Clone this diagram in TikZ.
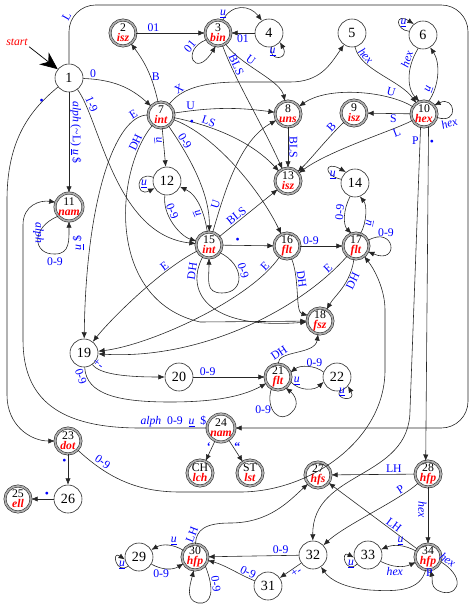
\documentclass[tikz,border=0pt]{standalone}
\usepackage{fontspec}
\setmainfont{Liberation Serif}
\usepackage{xcolor}
\usepackage{tikz}
\usetikzlibrary{
  arrows.meta,
  positioning,
  calc
}
\newcommand{\nm}[1]{\textcolor{red}{\textbf{\textit{#1}}}}
\newcommand{\uu}{\underline{\textit{u}}}

\begin{document}
\begin{tikzpicture}[x=0.03cm,y=0.03cm,
  st/.style ={circle,draw=black!85,line width=0.5pt,minimum size=0.84cm,inner sep=0pt,
              font=\fontsize{12}{12}\selectfont},
  acc/.style={circle,draw=black!85,line width=0.45pt,double=gray!65,double distance=1.5pt,
              minimum size=0.78cm,inner sep=0pt,align=center,font=\fontsize{10}{8.5}\selectfont},
  lbl/.style={text=blue,font=\fontsize{10}{10}\selectfont,inner sep=1pt},
  arr/.style={-{Latex[length=5.5pt,width=4.5pt]},draw=black!85,line width=0.5pt},
]
\useasboundingbox (0,0) rectangle (474,-613);

% states
\node[st]  (n1)  at (69,-78)   {1};
\node[acc] (n2)  at (123,-33)  {2\\\nm{isz}};
\node[acc] (n3)  at (218,-33)  {3\\\nm{bin}};
\node[st]  (n4)  at (269,-33)  {4};
\node[st]  (n5)  at (352,-33)  {5};
\node[st]  (n6)  at (423,-35)  {6};
\node[acc] (n7)  at (161,-115) {7\\\nm{int}};
\node[acc] (n8)  at (288,-114) {8\\\nm{uns}};
\node[acc] (n9)  at (354,-113) {9\\\nm{isz}};
\node[acc] (n10) at (424,-114) {10\\\nm{hex}};
\node[acc] (n11) at (69,-207)  {11\\\nm{nam}};
\node[st]  (n12) at (167,-181) {12};
\node[acc] (n13) at (288,-181) {13\\\nm{isz}};
\node[st]  (n14) at (355,-183) {14};
\node[acc] (n15) at (209,-245) {15\\\nm{int}};
\node[acc] (n16) at (287,-246) {16\\\nm{flt}};
\node[acc] (n17) at (356,-246) {17\\\nm{flt}};
\node[acc] (n18) at (320,-321) {18\\\nm{fsz}};
\node[st]  (n19) at (84,-353)  {19};
\node[st]  (n20) at (179,-377) {20};
\node[acc] (n21) at (278,-377) {21\\\nm{flt}};
\node[st]  (n22) at (337,-377) {22};
\node[acc] (n23) at (68,-441)  {23\\\nm{dot}};
\node[acc] (n24) at (221,-428) {24\\\nm{nam}};
\node[acc] (n25) at (18,-499)  {25\\\nm{ell}};
\node[st]  (n26) at (68,-499)  {26};
\node[acc] (nch) at (200,-473) {CH\\\nm{lch}};
\node[acc] (nst) at (250,-473) {ST\\\nm{lst}};
\node[acc] (n27) at (318,-475) {27\\\nm{hfs}};
\node[acc] (n28) at (428,-474) {28\\\nm{hfp}};
\node[st]  (n29) at (139,-557) {29};
\node[acc] (n30) at (195,-557) {30\\\nm{hfp}};
\node[st]  (n31) at (268,-586) {31};
\node[st]  (n32) at (313,-555) {32};
\node[st]  (n33) at (368,-555) {33};
\node[acc] (n34) at (428,-557) {34\\\nm{hfp}};

% start
\node[text=red,font=\itshape\fontsize{10}{10}\selectfont,inner sep=1pt] (start) at (17,-42) {start};
\draw[-{Stealth[length=15pt,width=13pt]},line width=0.6pt] (start.south east) -- (n1);

% from 1
\draw[arr] (n1) to[bend left=20] node[lbl,pos=0.12,above]{0} (n7);
\draw[arr] (n1) .. controls (100,-120) and (115,-235) .. node[lbl,pos=0.14,sloped,above]{1-9} (n15);
\draw[arr] (n1) -- node[lbl,pos=0.4,sloped,above]{\textit{alph} (\textasciitilde L) \uu\ \$} (n11);
\draw[arr] (n1) .. controls (30,-110) and (7,-140) .. node[lbl,pos=0.25,above right]{\textbullet} (7,-200)
  -- (7,-395) .. controls (7,-425) and (30,-441) .. (n23);
\draw[arr,rounded corners=0.8cm] (n1) -- node[lbl,pos=0.88,left,rotate=60]{L} (69,-5) -- (468,-5) -- (468,-428) -- (n24);

% from 2, 3, 4
\draw[arr] (n2) -- node[lbl,pos=0.25,above]{01} (n3);
\draw[arr] (n3.210) .. controls (180,-50) and (195,-80) .. node[lbl,pos=0.12,above left,rotate=50]{01} (n3.260);
\draw[arr] (n3.70) .. controls (232,-3) and (250,-5) .. node[lbl,pos=0.15,left]{\uu} (n4.120);
\draw[arr] (n4) -- node[lbl,below]{01} (n3);
\draw[arr] (n4.-80) .. controls (268,-62) and (290,-60) .. node[lbl,pos=0.45,above left]{\uu} (n4.-40);
\draw[arr] (n3) .. controls (240,-65) and (280,-80) .. node[lbl,pos=0.35,sloped,above]{U} (n8);
\draw[arr] (n3) .. controls (235,-80) and (260,-120) .. node[lbl,pos=0.2,sloped,above]{BLS} (n13);

% from 5, 6, 10
\draw[arr] (n5) .. controls (360,-70) and (400,-80) .. node[lbl,pos=0.2,sloped,above]{\textit{hex}} (n10);
\draw[arr] (n6.-110) .. controls (405,-70) and (408,-90) .. node[lbl,pos=0.2,sloped,above]{\textit{hex}} (n10.110);
\draw[arr] (n10.70) .. controls (440,-85) and (440,-62) .. node[lbl,pos=0.2,sloped,above]{\uu} (n6.-60);
\draw[arr] (n6.165) .. controls (395,-30) and (395,-12) .. node[lbl,pos=0.5,right]{\uu} (n6.130);
\draw[arr] (n10.-15) .. controls (460,-125) and (455,-95) .. node[lbl,pos=0.2,sloped,below]{\textit{hex}} (n10.40);
\draw[arr] (n10) .. controls (390,-92) and (330,-85) .. node[lbl,pos=0.25,sloped,above]{U} (n8);
\draw[arr] (n10) -- node[lbl,pos=0.4,below]{S} (n9);
\draw[arr] (n10) .. controls (395,-130) and (330,-150) .. node[lbl,pos=0.22,sloped,below]{L} (n13);
\draw[arr] (n9) .. controls (330,-135) and (310,-160) .. node[lbl,pos=0.2,sloped,above]{B} (n13);
\draw[arr] (n10.-105) -- node[lbl,pos=0.05,left]{P} (410,-410)
  .. controls (410,-480) and (312,-470) .. (n32);
\draw[arr] (n10.-70) -- node[lbl,pos=0.05,right]{\textbullet} (n28.100);

% from 7
\draw[arr] (n7) to[bend right=12] node[lbl,pos=0.4,right]{B} (n2);
\draw[arr] (n7) .. controls (180,-90) and (200,-82) .. node[lbl,pos=0.3,sloped,above]{X} (240,-82)
  -- (290,-82) .. controls (320,-82) and (330,-65) .. (n5);
\draw[arr] (n7) to[bend left=8] node[lbl,pos=0.15,above]{U} (n8);
\draw[arr] (n7) .. controls (210,-125) and (250,-140) .. node[lbl,pos=0.3,sloped,above]{LS} (n13);
\draw[arr] (n7) .. controls (215,-135) and (260,-190) .. node[lbl,pos=0.12,above right]{\textbullet} (n16);
\draw[arr] (n7) -- node[lbl,pos=0.3,sloped,below]{\uu} (n12);
\draw[arr] (n7) .. controls (185,-150) and (210,-190) .. node[lbl,pos=0.22,sloped,above]{0-9} (n15);
\draw[arr] (n7) .. controls (115,-115) and (86,-200) .. node[lbl,pos=0.12,sloped,above]{E} (n19);
\draw[arr] (n7) .. controls (115,-170) and (105,-300) .. node[lbl,pos=0.12,sloped,above]{DH} (200,-322) -- (n18);

% from 8, 11, 12
\draw[arr] (n8) -- node[lbl,sloped,above]{BLS} (n13);
\draw[arr] (n11.-140) .. controls (30,-228) and (33,-255) .. node[lbl,pos=0.6,left,rotate=-90]{\textit{alph}} (55,-254)
  .. controls (70,-254) and (69,-240) .. (n11.-90);
\node[lbl] (l11a) at (55,-262) {0-9};
\node[lbl,rotate=90] (l11b) at (78,-243) {\uu\ \$};
\draw[arr] (n12.165) .. controls (135,-170) and (135,-198) .. node[lbl,pos=0.5,right]{\uu} (n12.-150);
\draw[arr] (n12) .. controls (162,-215) and (180,-236) .. node[lbl,pos=0.3,sloped,above]{0-9} (n15);

% from 15
\draw[arr] (n15) .. controls (205,-215) and (198,-195) .. node[lbl,pos=0.4,sloped,below]{\uu} (n12);
\draw[arr] (n15) .. controls (225,-190) and (240,-140) .. node[lbl,pos=0.2,sloped,above]{U} (n8);
\draw[arr] (n15) -- node[lbl,pos=0.35,sloped,above]{BLS} (n13);
\draw[arr] (n15) -- node[lbl,pos=0.3,above]{\textbullet} (n16);
\draw[arr] (n15.-35) .. controls (245,-265) and (245,-293) .. node[lbl,pos=0.4,sloped,above]{0-9} (222,-293)
  .. controls (205,-293) and (209,-280) .. (n15.-90);
\draw[arr] (n15) .. controls (160,-270) and (110,-320) .. node[lbl,pos=0.25,sloped,above]{E} (n19);
\draw[arr] (n15) .. controls (185,-290) and (205,-330) .. node[lbl,pos=0.15,sloped,above]{DH} (n18);

% from 16, 17, 14
\draw[arr] (n16) -- node[lbl,pos=0.25,above]{0-9} (n17);
\draw[arr] (n16.-70) .. controls (300,-280) and (295,-312) .. node[lbl,pos=0.3,sloped,above]{DH} (n18.155);
\draw[arr] (n16) .. controls (250,-300) and (150,-345) .. node[lbl,pos=0.1,sloped,above]{E} (n19);
\draw[arr] (n17.25) .. controls (395,-225) and (400,-265) .. node[lbl,pos=0.3,above]{0-9} (n17.-25);
\draw[arr] (n17.70) .. controls (367,-222) and (367,-205) .. node[lbl,pos=0.3,sloped,below]{\uu} (n14.-70);
\draw[arr] (n14.-110) .. controls (343,-210) and (343,-225) .. node[lbl,pos=0.4,sloped,above]{0-9} (n17.110);
\draw[arr] (n14.165) .. controls (322,-175) and (325,-160) .. node[lbl,pos=0.5,below right]{\uu} (n14.130);
\draw[arr] (n17) .. controls (350,-285) and (335,-295) .. node[lbl,pos=0.3,sloped,below]{DH} (n18);
\draw[arr] (n17) .. controls (300,-310) and (200,-360) .. node[lbl,pos=0.1,sloped,above]{E} (n19);

% from 19 .. 22
\draw[arr] (n19) .. controls (100,-375) and (130,-377) .. node[lbl,pos=0.1,sloped,above]{+-} (n20);
\draw[arr] (n19) .. controls (86,-395) and (120,-402) .. node[lbl,pos=0.1,sloped,below]{0-9} (170,-402)
  .. controls (220,-402) and (245,-395) .. (n21);
\draw[arr] (n20) -- node[lbl,pos=0.2,above]{0-9} (n21);
\draw[arr] (n21) .. controls (278,-350) and (315,-355) .. node[lbl,pos=0.2,sloped,above]{DH} (n18);
\draw[arr] (n21.-20) .. controls (300,-392) and (315,-390) .. node[lbl,pos=0.2,above]{\uu} (n22.-160);
\draw[arr] (n22.160) .. controls (315,-365) and (300,-365) .. node[lbl,pos=0.3,above]{0-9} (n21.20);
\draw[arr] (n21.-120) .. controls (265,-410) and (280,-425) .. node[lbl,pos=0.4,left]{0-9} (292,-412)
  .. controls (300,-405) and (295,-395) .. (n21.-55);
\draw[arr] (n22.-80) .. controls (335,-400) and (357,-402) .. node[lbl,pos=0.55,above left]{\uu} (n22.-40);

% from 23, 24, 26
\draw[arr] (n23) -- node[lbl,pos=0.25,left]{\textbullet} (n26);
\draw[arr] (n26) -- node[lbl,pos=0.3,above]{\textbullet} (n25);
\draw[arr] (n23) .. controls (110,-480) and (140,-492) .. node[lbl,pos=0.22,sloped,above=1pt]{0-9} (180,-492)
  -- (240,-492) .. controls (310,-492) and (385,-440) .. (385,-370) -- (385,-310)
  .. controls (385,-290) and (375,-270) .. (n17);
\draw[arr] (n24) -- (140,-428) node[lbl,pos=0.5,above]{\textit{alph}\ \ 0-9\ \ \uu\ \ \$}
  .. controls (60,-428) and (23,-400) .. (23,-340) -- (23,-225) .. controls (23,-205) and (40,-200) .. (n11.160);
\draw[arr] (n24) -- node[lbl,pos=0.3,left,font=\bfseries\fontsize{10}{10}\selectfont]{‘} (nch);
\draw[arr] (n24) -- node[lbl,pos=0.3,right,font=\bfseries\fontsize{10}{10}\selectfont]{“} (nst);

% from 28, 34, 33
\draw[arr] (n28) -- node[lbl,pos=0.25,above]{LH} (n27);
\draw[arr] (n28) .. controls (400,-500) and (345,-525) .. node[lbl,pos=0.2,sloped,above]{P} (n32);
\draw[arr] (n28) -- node[lbl,pos=0.4,sloped,below]{\textit{hex}} (n34);
\draw[arr] (n34) -- node[lbl,pos=0.3,sloped,above]{LH} (n27);
\draw[arr] (n34) to[bend right=25] node[lbl,pos=0.45,above]{\uu} (n33);
\draw[arr] (n33) to[bend right=25] node[lbl,pos=0.4,below]{\textit{hex}} (n34);
\draw[arr] (n33.-140) .. controls (345,-575) and (340,-550) .. node[lbl,pos=0.4,right]{\uu} (n33.-170);
\draw[arr] (n34.-20) .. controls (470,-580) and (455,-600) .. node[lbl,pos=0.05,sloped,above]{\textit{hex}} (437,-590)
  .. controls (430,-585) and (433,-580) .. (n34.-80);
\draw[arr] (n34.-100) .. controls (420,-590) and (400,-592) .. node[lbl,pos=0.05,right]{P} (370,-590)
  .. controls (345,-588) and (330,-580) .. (n32);

% from 32, 31, 30, 29
\draw[arr] (n32) -- node[lbl,pos=0.35,sloped,below]{+-} (n31);
\draw[arr] (n31) .. controls (240,-575) and (225,-565) .. node[lbl,pos=0.2,sloped,above]{0-9} (n30);
\draw[arr] (n32) -- node[lbl,pos=0.2,above]{0-9} (n30);
\draw[arr] (n30) to[bend right=30] node[lbl,pos=0.3,above]{\uu} (n29);
\draw[arr] (n29) to[bend right=30] node[lbl,pos=0.3,below]{0-9} (n30);
\draw[arr] (n29.-140) .. controls (116,-575) and (111,-550) .. node[lbl,pos=0.4,right]{\uu} (n29.-170);
\draw[arr] (n30.-40) .. controls (215,-590) and (212,-605) .. node[lbl,pos=0.3,sloped,above]{0-9} (198,-603)
  .. controls (185,-600) and (190,-585) .. (n30.-95);
\draw[arr] (n30) .. controls (196,-530) and (205,-523) .. node[lbl,pos=0.2,sloped,above]{LH} (230,-523)
  .. controls (270,-523) and (290,-500) .. (n27);
\end{tikzpicture}
\end{document}
